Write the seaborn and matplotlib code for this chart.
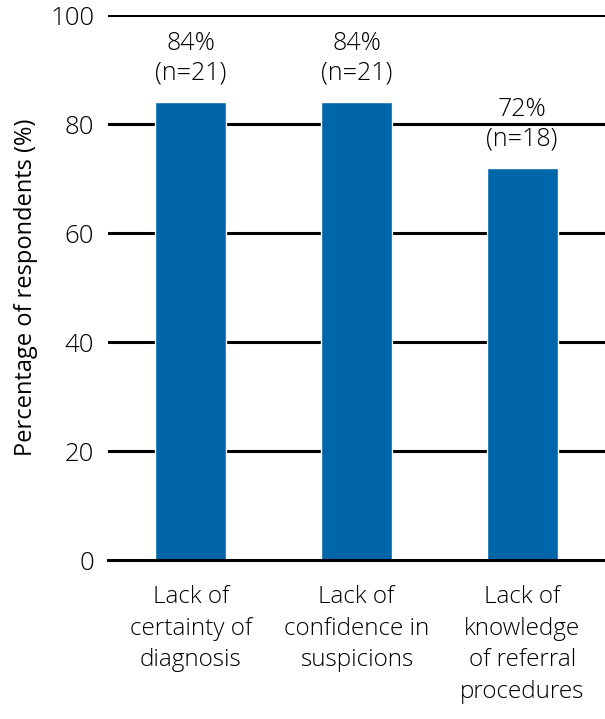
import matplotlib
matplotlib.use('Agg')
import matplotlib.pyplot as plt
import seaborn as sns
import pandas as pd

# Chart data
barriers = ['Lack of\ncertainty of\ndiagnosis',
            'Lack of\nconfidence in\nsuspicions',
            'Lack of\nknowledge\nof referral\nprocedures']
percent = [84, 84, 72]
counts = [21, 21, 18]

df = pd.DataFrame({'Barrier': barriers, 'Percent': percent, 'n': counts})

sns.set_style('white')
plt.rcParams['font.family'] = ['Open Sans', 'DejaVu Sans']
plt.rcParams['font.weight'] = 'light'
plt.rcParams['text.color'] = 'black'
plt.rcParams['axes.labelcolor'] = 'black'
plt.rcParams['xtick.color'] = 'black'
plt.rcParams['ytick.color'] = 'black'

fig = plt.figure(figsize=(6.05, 7.19), dpi=100)
ax = fig.add_axes([0.1785, 0.221, 0.8215, 0.758])

sns.barplot(data=df, x='Barrier', y='Percent', color='#0066AA', width=0.43,
            saturation=1, ax=ax, zorder=3)

ax.set_ylim(0, 100)
ax.set_xlim(-0.5, 2.5)
ax.set_yticks([0, 20, 40, 60, 80, 100])
for v in [20, 40, 60, 80, 100]:
    ax.axhline(v, color='black', linewidth=2.2, zorder=1)

for spine in ['left', 'right', 'top']:
    ax.spines[spine].set_visible(False)
ax.spines['bottom'].set_color('black')
ax.spines['bottom'].set_linewidth(2.2)
ax.spines['bottom'].set_zorder(4)

ax.tick_params(axis='y', length=0, labelsize=18.5, pad=10)
ax.tick_params(axis='x', which='major', length=0, labelsize=17.5, pad=18)
for lbl in ax.get_xticklabels():
    lbl.set_linespacing(1.42)
ax.set_xticks([0.5, 1.5], minor=True)
ax.tick_params(axis='x', which='minor', length=16, width=2.2, color='black')

ax.set_xlabel('')
ax.set_ylabel('Percentage of respondents (%)', fontsize=17, labelpad=9)

for i, (p, n) in enumerate(zip(percent, counts)):
    ax.text(i, p + 3, f'{p}%\n(n={n})', ha='center', va='bottom',
            fontsize=18, linespacing=1.25)

fig.savefig('out.png', dpi=100)
